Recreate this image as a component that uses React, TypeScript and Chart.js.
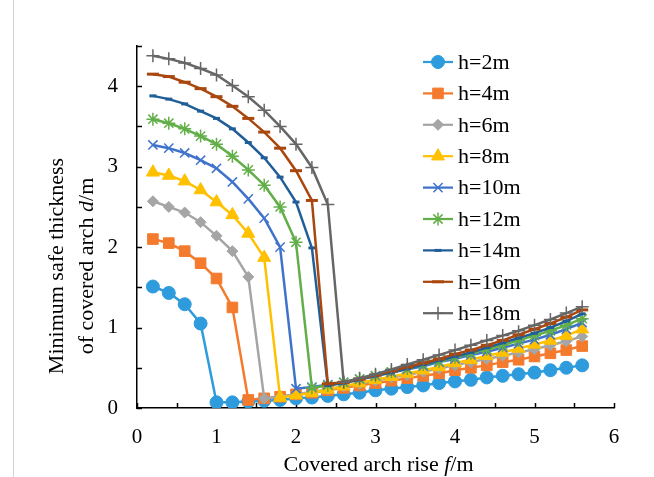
import React, { useEffect, useRef } from 'react';
import { Chart, registerables } from 'chart.js';
import { drawPoint } from 'chart.js/helpers';

Chart.register(...registerables);

// Covered arch rise f (m)
const riseValues = [0.2, 0.4, 0.6, 0.8, 1.0, 1.2, 1.4, 1.6, 1.8, 2.0, 2.2, 2.4, 2.6, 2.8, 3.0, 3.2, 3.4, 3.6, 3.8, 4.0, 4.2, 4.4, 4.6, 4.8, 5.0, 5.2, 5.4, 5.6];

// Minimum safe thickness d (m) for each overburden h
const h2 = [1.51, 1.43, 1.29, 1.05, 0.07, 0.07, 0.08, 0.09, 0.10, 0.12, 0.13, 0.15, 0.17, 0.19, 0.22, 0.24, 0.26, 0.28, 0.31, 0.33, 0.35, 0.38, 0.40, 0.42, 0.44, 0.47, 0.50, 0.53];
const h4 = [2.10, 2.05, 1.95, 1.80, 1.61, 1.25, 0.10, 0.12, 0.14, 0.17, 0.19, 0.22, 0.25, 0.28, 0.31, 0.34, 0.37, 0.40, 0.43, 0.47, 0.50, 0.53, 0.57, 0.60, 0.64, 0.68, 0.72, 0.77];
const h6 = [2.57, 2.50, 2.43, 2.31, 2.14, 1.95, 1.63, 0.12, 0.14, 0.17, 0.20, 0.23, 0.27, 0.30, 0.34, 0.38, 0.41, 0.45, 0.49, 0.53, 0.57, 0.61, 0.65, 0.69, 0.73, 0.78, 0.83, 0.89];
const h8 = [2.93, 2.89, 2.82, 2.71, 2.56, 2.40, 2.17, 1.87, 0.13, 0.16, 0.19, 0.23, 0.27, 0.31, 0.35, 0.39, 0.43, 0.47, 0.51, 0.56, 0.60, 0.65, 0.69, 0.74, 0.79, 0.84, 0.90, 0.98];
const h10 = [3.27, 3.23, 3.17, 3.08, 2.98, 2.81, 2.60, 2.36, 2.00, 0.24, 0.26, 0.29, 0.32, 0.36, 0.40, 0.44, 0.48, 0.52, 0.57, 0.61, 0.66, 0.70, 0.75, 0.80, 0.85, 0.91, 0.98, 1.06];
const h12 = [3.59, 3.54, 3.47, 3.38, 3.28, 3.13, 2.96, 2.77, 2.50, 2.06, 0.25, 0.28, 0.32, 0.36, 0.40, 0.45, 0.49, 0.54, 0.58, 0.63, 0.68, 0.73, 0.78, 0.84, 0.90, 0.96, 1.03, 1.11];
const h14 = [3.88, 3.84, 3.78, 3.69, 3.60, 3.47, 3.30, 3.11, 2.87, 2.56, 1.99, 0.28, 0.31, 0.35, 0.40, 0.44, 0.49, 0.54, 0.59, 0.64, 0.69, 0.75, 0.81, 0.87, 0.93, 1.00, 1.08, 1.17];
const h16 = [4.15, 4.12, 4.05, 3.97, 3.87, 3.75, 3.60, 3.43, 3.23, 2.95, 2.58, 0.30, 0.32, 0.36, 0.41, 0.46, 0.51, 0.56, 0.61, 0.67, 0.72, 0.78, 0.84, 0.91, 0.98, 1.05, 1.13, 1.22];
const h18 = [4.38, 4.34, 4.29, 4.22, 4.14, 4.01, 3.87, 3.70, 3.50, 3.28, 2.99, 2.53, 0.32, 0.37, 0.42, 0.48, 0.54, 0.60, 0.66, 0.72, 0.78, 0.84, 0.90, 0.96, 1.03, 1.10, 1.18, 1.26];

const seriesValues = [h2, h4, h6, h8, h10, h12, h14, h16, h18];
const seriesLabels = ['h=2m', 'h=4m', 'h=6m', 'h=8m', 'h=10m', 'h=12m', 'h=14m', 'h=16m', 'h=18m'];
const seriesColors = ['#2E9BDD', '#F47B2E', '#A5A5A5', '#FFC000', '#3F73CB', '#62AF49', '#205E98', '#A9470F', '#666666'];
const markerStyles = ['circle', 'rect', 'rectRot', 'triangle', 'crossRot', 'star', 'line', 'line', 'cross'];
const markerRadii = [6.5, 7.5, 5.5, 7.5, 6.5, 6.5, 3.5, 6, 6.5];
const markerBorder = [1, 1, 1, 1, 1.5, 1.5, 3, 3, 1.5];

const xTickMax = 6;
const yTickMax = 4.5;

const FONT = '"Liberation Serif", "Times New Roman", serif';

const insideTicks = {
  id: 'insideTicks',
  beforeDatasetsDraw(chart: any) {
    const ctx = chart.ctx;
    const xs = chart.scales.x;
    const ys = chart.scales.y;
    const area = chart.chartArea;
    ctx.save();
    ctx.strokeStyle = '#000';
    ctx.lineWidth = 1.5;
    xs.ticks.forEach((t: any) => {
      const px = Math.round(xs.getPixelForValue(t.value)) + 0.5;
      ctx.beginPath();
      ctx.moveTo(px, area.bottom);
      ctx.lineTo(px, area.bottom - 5);
      ctx.stroke();
    });
    ys.ticks.forEach((t: any) => {
      const py = Math.round(ys.getPixelForValue(t.value)) + 0.5;
      ctx.beginPath();
      ctx.moveTo(area.left, py);
      ctx.lineTo(area.left + 5, py);
      ctx.stroke();
    });
    ctx.restore();
  },
};

function drawMixed(ctx: CanvasRenderingContext2D, parts: [string, boolean][], cx: number, cy: number, size: number) {
  const widths = parts.map(([t, it]) => {
    ctx.font = `${it ? 'italic ' : ''}${size}px ${FONT}`;
    return ctx.measureText(t).width;
  });
  const total = widths.reduce((a, b) => a + b, 0);
  let x = cx - total / 2;
  ctx.textAlign = 'left';
  ctx.textBaseline = 'middle';
  parts.forEach(([t, it], i) => {
    ctx.font = `${it ? 'italic ' : ''}${size}px ${FONT}`;
    ctx.fillText(t, x, cy);
    x += widths[i];
  });
}

const axisTitles = {
  id: 'axisTitles',
  afterDraw(chart: any) {
    const ctx = chart.ctx as CanvasRenderingContext2D;
    const area = chart.chartArea;
    ctx.save();
    ctx.fillStyle = '#000';
    drawMixed(ctx, [['Covered arch rise ', false], ['f', true], ['/m', false]], (area.left + area.right) / 2 + 3, 465, 22);
    const cy = 266;
    ctx.save();
    ctx.translate(57, cy);
    ctx.rotate(-Math.PI / 2);
    drawMixed(ctx, [['Minimum safe thickness', false]], 0, 0, 22);
    ctx.restore();
    ctx.save();
    ctx.translate(87, cy);
    ctx.rotate(-Math.PI / 2);
    drawMixed(ctx, [['of covered arch ', false], ['d', true], ['/m', false]], 0, 0, 22);
    ctx.restore();
    // faint figure frame on the left
    ctx.strokeStyle = '#d4d4d4';
    ctx.lineWidth = 1;
    ctx.beginPath();
    ctx.moveTo(13.5, 0);
    ctx.lineTo(13.5, 477);
    ctx.stroke();
    ctx.restore();
  },
};

const innerLegend = {
  id: 'innerLegend',
  afterDatasetsDraw(chart: any) {
    const ctx = chart.ctx as CanvasRenderingContext2D;
    const area = chart.chartArea;
    const left = area.left + 286;
    const top = area.top + 16;
    const step = 31.4;
    ctx.save();
    ctx.fillStyle = '#fff';
    ctx.fillRect(left - 6, top - 16, 110, step * 8 + 28);
    chart.data.datasets.forEach((ds: any, i: number) => {
      const y = top + i * step;
      ctx.strokeStyle = ds.borderColor;
      ctx.lineWidth = 2.25;
      ctx.beginPath();
      ctx.moveTo(left, y);
      ctx.lineTo(left + 30, y);
      ctx.stroke();
      ctx.fillStyle = ds.pointBackgroundColor;
      ctx.strokeStyle = ds.pointBorderColor;
      ctx.lineWidth = ds.pointBorderWidth;
      drawPoint(ctx, { pointStyle: ds.pointStyle, radius: ds.pointRadius, borderWidth: ds.pointBorderWidth, rotation: 0 } as any, left + 15, y);
      ctx.fillStyle = '#000';
      ctx.font = `22px ${FONT}`;
      ctx.textAlign = 'left';
      ctx.textBaseline = 'middle';
      ctx.fillText(ds.label, left + 35, y + 1);
    });
    ctx.restore();
  },
};

export default function App() {
  const canvasRef = useRef<HTMLCanvasElement | null>(null);

  useEffect(() => {
    if (!canvasRef.current) return;
    const datasets = seriesValues.map((vals, i) => ({
      label: seriesLabels[i],
      data: riseValues.map((x, j) => ({ x, y: vals[j] })),
      borderColor: seriesColors[i],
      backgroundColor: seriesColors[i],
      borderWidth: 2.5,
      pointStyle: markerStyles[i],
      pointRadius: markerRadii[i],
      pointBorderWidth: markerBorder[i],
      pointBackgroundColor: seriesColors[i],
      pointBorderColor: seriesColors[i],
      tension: 0,
      fill: false,
      order: seriesValues.length - i,
    }));

    const chart = new Chart(canvasRef.current, {
      type: 'line',
      data: { datasets },
      options: {
        animation: false,
        responsive: false,
        devicePixelRatio: 1,
        layout: { padding: { left: 0, right: 40, top: 46, bottom: 0 } },
        plugins: {
          legend: { display: false },
          tooltip: { enabled: false },
          title: { display: false },
        },
        scales: {
          x: {
            type: 'linear',
            min: 0,
            max: xTickMax,
            grid: { display: false, drawTicks: false },
            border: { display: true, color: '#000', width: 1.5 },
            ticks: {
              stepSize: 0.5,
              autoSkip: false,
              maxRotation: 0,
              padding: 17,
              color: '#000',
              font: { family: FONT, size: 21 },
              callback: (v: any) => (Number.isInteger(v) ? String(v) : ''),
            },
            afterFit: (s: any) => {
              s.height = 69;
              s.paddingLeft = 0;
              s.paddingRight = 0;
            },
          },
          y: {
            type: 'linear',
            min: 0,
            max: yTickMax,
            grid: { display: false, drawTicks: false },
            border: { display: true, color: '#000', width: 1.5 },
            ticks: {
              stepSize: 0.5,
              autoSkip: false,
              padding: 19,
              color: '#000',
              font: { family: FONT, size: 21 },
              callback: (v: any) => (Number.isInteger(v) ? String(v) : ''),
            },
            afterFit: (s: any) => {
              s.width = 137;
              s.paddingTop = 0;
              s.paddingBottom = 0;
            },
          },
        },
      } as any,
      plugins: [insideTicks, innerLegend, axisTitles],
    });
    return () => chart.destroy();
  }, []);

  return (
    <div style={{ position: 'fixed', left: 0, top: 0, width: 654, height: 477, background: '#fff' }}>
      <canvas ref={canvasRef} width={654} height={477} />
    </div>
  );
}
